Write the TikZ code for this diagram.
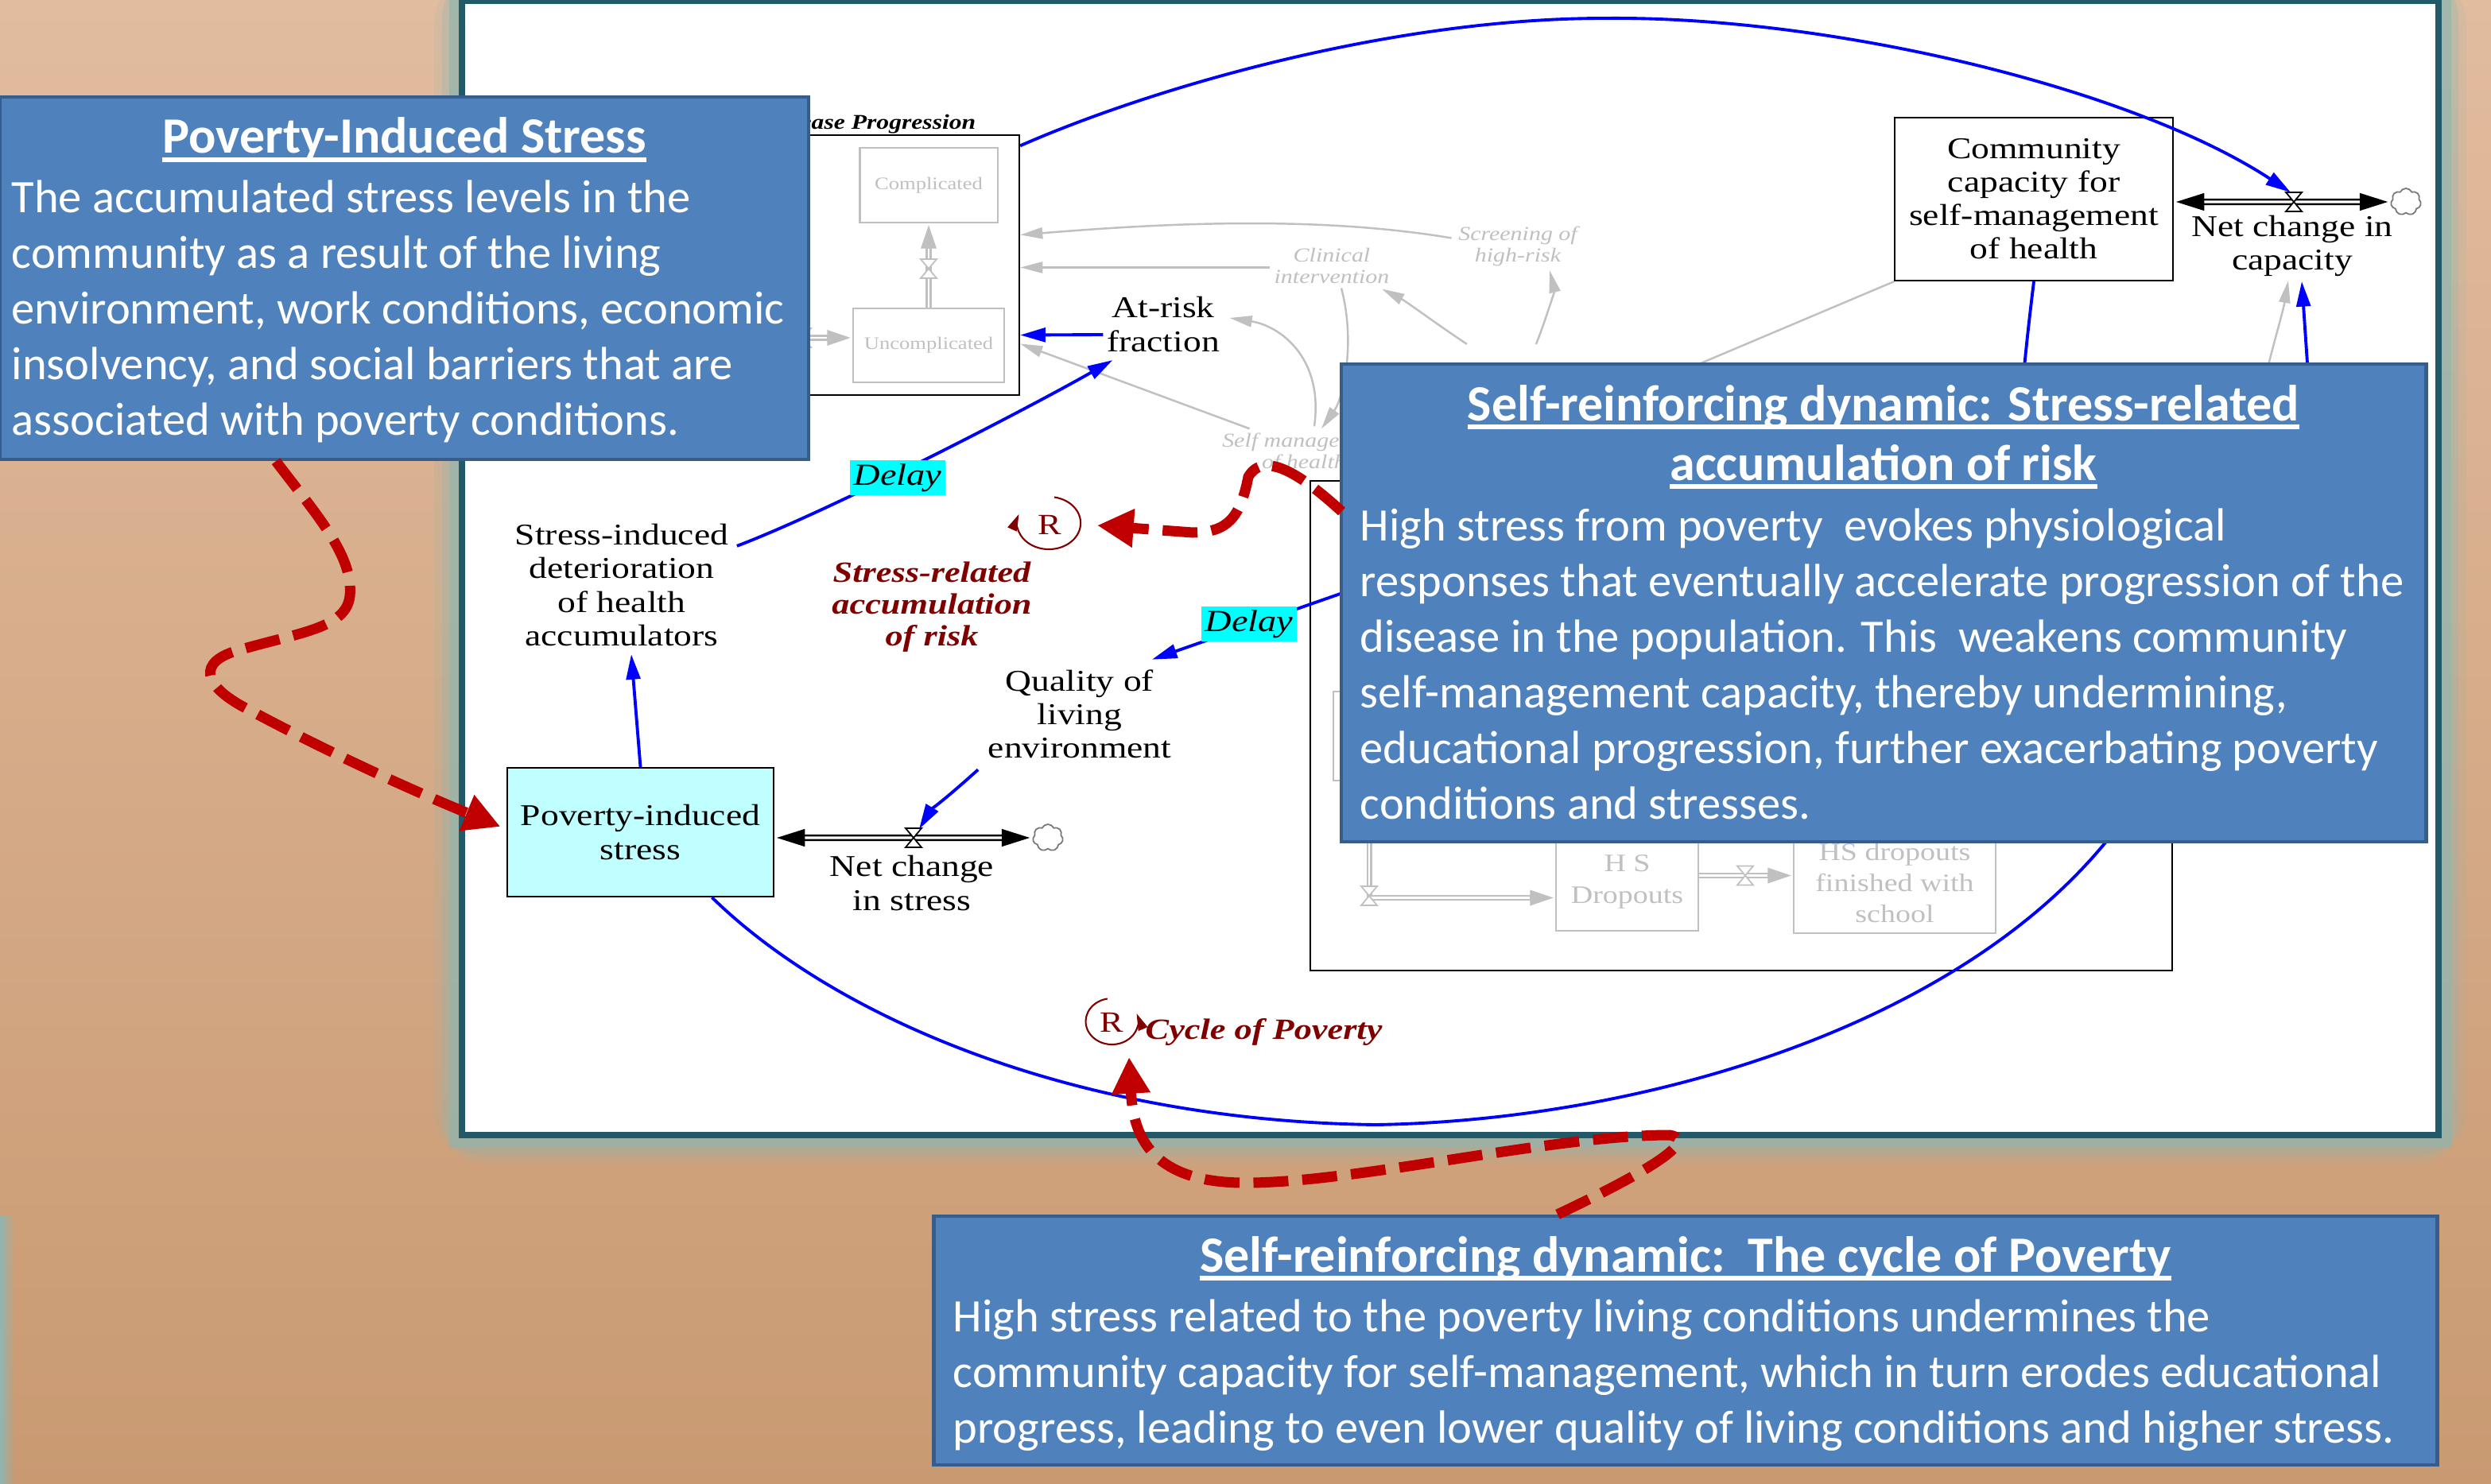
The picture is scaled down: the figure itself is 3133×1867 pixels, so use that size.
\documentclass[tikz,border=0pt]{standalone}
\usepackage{fontspec}
\setmainfont{Liberation Serif}
\newfontfamily\vensim{Liberation Serif}[FakeStretch=1.2]
\newfontfamily\callfont{Carlito}
\usetikzlibrary{arrows.meta, positioning, calc, shapes.symbols, fadings}
\definecolor{bgtop}{RGB}{226,188,159}
\definecolor{bgbottom}{RGB}{201,154,114}
\definecolor{panelline}{RGB}{33,89,104}
\definecolor{glowteal}{RGB}{143,182,177}
\definecolor{callfill}{RGB}{79,129,189}
\definecolor{callline}{RGB}{56,93,138}
\definecolor{stockcyan}{RGB}{191,255,255}
\definecolor{delaycyan}{RGB}{0,255,255}
\definecolor{vgray}{RGB}{192,192,192}
\definecolor{cloudgray}{RGB}{120,120,120}
\definecolor{linkblue}{RGB}{0,0,255}
\definecolor{riskred}{RGB}{192,0,0}
\definecolor{loopred}{RGB}{128,0,0}
\newsavebox\ulbox
\newcommand{\offul}[1]{\sbox\ulbox{#1}\rlap{\rule[-0.17em]{\wd\ulbox}{0.09em}}\usebox\ulbox}
\tikzset{
  valve/.pic={\draw[fill=white, line width=0.5pt] (-10,-12) -- (10,-12) -- (-10,12) -- (10,12) -- cycle;},
  greyvalve/.pic={\draw[vgray, fill=white, line width=0.5pt] (-10,-12) -- (10,-12) -- (-10,12) -- (10,12) -- cycle;}
}

\begin{document}
\begin{tikzpicture}[x=0.01cm, y=-0.01cm,
  var/.style={align=center, inner sep=0, font=\vensim\fontsize{10.8}{11.95}\selectfont},
  stockbox/.style={draw, line width=0.6pt, align=center, inner sep=0, font=\vensim\fontsize{10.8}{11.95}\selectfont},
  greystock/.style={draw=vgray, line width=0.6pt, text=vgray, align=center, inner sep=0, font=\vensim\fontsize{6.3}{7}\selectfont},
  greyvar/.style={text=vgray, align=center, inner sep=0, font=\vensim\itshape\fontsize{7.1}{7.7}\selectfont},
  link/.style={draw=linkblue, line width=1.1pt, -{Triangle[length=9pt,width=5pt]}},
  greylink/.style={draw=vgray, line width=0.7pt, -{Triangle[length=8pt,width=4pt]}},
  delaytag/.style={fill=delaycyan, inner sep=0, minimum width=1.2cm, minimum height=0.43cm, font=\vensim\itshape\fontsize{11}{12}\selectfont},
  flowpipe/.style={line width=2.4pt, {Triangle[length=11pt,width=5.5pt]}-{Triangle[length=11pt,width=5.5pt]}},
  pipecore/.style={draw=white, line width=0.9pt, shorten <=11pt, shorten >=11pt},
  greypipe/.style={draw=vgray, line width=2pt, -{Triangle[length=9pt,width=5pt]}},
  greycore/.style={draw=white, line width=0.8pt, shorten >=9pt},
  sink/.style={cloud, draw=cloudgray, line width=0.5pt, cloud puffs=7, cloud puff arc=130, aspect=1.1, minimum width=0.38cm, minimum height=0.34cm, inner sep=0},
  loopR/.style={text=loopred, inner sep=0, font=\vensim\fontsize{10.5}{12}\selectfont},
  loopname/.style={text=loopred, align=center, inner sep=0, font=\vensim\bfseries\itshape\fontsize{10.5}{11.4}\selectfont},
  looparc/.style={draw=loopred, line width=0.6pt, -{Triangle[length=6pt,width=3.5pt]}},
  riskpath/.style={draw=riskred, line width=3.7pt, dash pattern=on 12.5pt off 5pt, -{Triangle[length=13pt,width=13pt]}},
  callbox/.style={fill=callfill, draw=callline, line width=1.2pt, inner sep=0},
  calltitle/.style={text=white, inner sep=0, font=\callfont\bfseries\fontsize{18.2}{21.3}\selectfont},
  calltext/.style={text=white, align=left, inner sep=0, font=\callfont\fontsize{16.65}{19.92}\selectfont}
]
\useasboundingbox (0,0) rectangle (3133,1867);
% background and panel
\shade[top color=bgtop, bottom color=bgbottom] (0,0) rectangle (3133,1867);
\fill[glowteal, path fading=east] (0,1530) rectangle (18,1867);
\draw[glowteal, opacity=0.15, line width=0.7cm, rounded corners=0.3cm] (581,1) rectangle (3067,1428);
\draw[glowteal, opacity=0.3, line width=0.5cm, rounded corners=0.2cm] (581,1) rectangle (3067,1428);
\draw[glowteal, opacity=0.6, line width=0.32cm] (581,1) rectangle (3067,1428);
\draw[panelline, fill=white, line width=0.08cm] (581,1) rectangle (3067,1428);

% Disease progression sector
\node[stockbox, minimum width=3.22cm, minimum height=3.26cm] (disease) at (1121,333.5) {};
\node[anchor=base east, inner sep=0, font=\vensim\bfseries\itshape\fontsize{7.5}{8}\selectfont] (diseaselbl) at (1228,163) {Disease Progression};
\node[greystock, minimum width=1.73cm, minimum height=0.94cm] (compl) at (1168,233) {Complicated};
\node[greystock, minimum width=1.90cm, minimum height=0.93cm] (uncompl) at (1168,434.5) {Uncomplicated};
\draw[greypipe] (uncompl.north) -- (compl.south);
\draw[greycore] (uncompl.north) -- (compl.south);
\pic at (1168,338) {greyvalve};
\coordinate (uncin) at (960,425);
\draw[greypipe] (uncin) -- (uncin -| uncompl.west);
\draw[greycore] (uncin) -- (uncin -| uncompl.west);
\pic at (1010,425) {greyvalve};

% grey sector variables
\node[var] (atrisk) at (1463,408) {At-risk\\fraction};
\node[greyvar] (screen) at (1909,309.5) {Screening of\\high-risk};
\node[greyvar] (clinical) at (1675,334.5) {Clinical\\intervention};
\node[greyvar] (selfmgmt) at (1640,570) {Self management\\of health};
\node[greyvar] (access) at (1890,472) {Access to};
\draw[greylink] ($(screen.west)+(-8,-10)$) .. controls (1650,270) and (1450,282) .. ($(disease.east)+(0,-38)$);
\draw[greylink] ($(clinical.west)+(-5,2)$) -- ($(disease.east)+(0,3)$);
\draw[greylink] ($(selfmgmt.north west)+(35,-5)$) -- ($(disease.east)+(0,99)$);
\draw[greylink] ($(selfmgmt.north)+(13,-8)$) .. controls (1665,450) and (1610,410) .. ($(atrisk.east)+(12,-8)$);
\draw[greylink] ($(clinical.south)+(12,5)$) .. controls (1705,430) and (1690,500) .. ($(selfmgmt.north)+(22,-5)$);
\draw[greylink] ($(access.north)+(-45,-30)$) .. controls (1810,410) and (1770,380) .. ($(clinical.south east)+(-10,6)$);
\draw[greylink] ($(access.north)+(42,-30)$) .. controls (1945,400) and (1955,365) .. ($(screen.south)+(40,5)$);

% education sector (under the callout)
\node[draw, line width=0.6pt, minimum width=10.84cm, minimum height=6.16cm, inner sep=0] (edu) at (2190,913) {};
\node[greystock, minimum width=1.3cm, minimum height=1.12cm] (edustock) at (1742,926) {};
\node[greystock, minimum width=1.79cm, minimum height=1.23cm, font=\vensim\fontsize{9}{11.3}\selectfont] (dropouts) at (2046.5,1109.5) {H S\\Dropouts};
\node[greystock, minimum width=2.54cm, minimum height=1.27cm, font=\vensim\fontsize{9}{11.1}\selectfont] (finished) at (2383,1110.5) {HS dropouts\\finished with\\school};
\draw[greypipe] ($(dropouts.east)+(0,-8)$) -- ($(finished.west)+(0,-9)$);
\draw[greycore] ($(dropouts.east)+(0,-8)$) -- ($(finished.west)+(0,-9)$);
\pic at (2195,1101.5) {greyvalve};
\coordinate (edusrc) at (1722,1000);
\draw[greypipe] (edusrc) |- ($(dropouts.west)+(0,20)$);
\draw[greycore] (edusrc) |- ($(dropouts.west)+(0,20)$);
\pic at (1722,1127) {greyvalve};

% stress sector
\node[var] (deter) at (782,736) {Stress-induced\\deterioration\\of health\\accumulators};
\node[stockbox, fill=stockcyan, minimum width=3.34cm, minimum height=1.62cm] (stress) at (805.5,1047) {Poverty-induced\\stress};
\node[sink] (cloudA) at (1318,1054) {};
\coordinate (valveA) at (1149,1054);
\draw[flowpipe] ($(stress.east)+(0,7)$) -- (cloudA.west);
\draw[pipecore] ($(stress.east)+(0,7)$) -- (cloudA.west);
\pic at (valveA) {valve};
\node[var] (netstress) at (1147,1111) {Net change\\in stress};
\node[var] (quality) at (1358,898) {Quality of\\living\\environment};

% capacity sector
\node[stockbox, minimum width=3.49cm, minimum height=2.05cm] (community) at (2558,250.5) {Community\\capacity for\\self-management\\of health};
\node[sink] (cloudB) at (3026,254) {};
\coordinate (valveB) at (2885,254);
\draw[flowpipe] ($(community.east)+(0,3.5)$) -- (cloudB.west);
\draw[pipecore] ($(community.east)+(0,3.5)$) -- (cloudB.west);
\pic at (valveB) {valve};
\node[var] (netcap) at (2883,309) {Net change in\\capacity};
\coordinate (edutarget) at (2520,800);
\coordinate (commlink) at (1990,520);
\coordinate (greyin) at (2830,560);
\draw[greylink] (community.south west) -- (commlink);
\draw[greylink] (greyin) .. controls (2850,460) and (2870,400) .. ($(netcap.south)+(-5,5)$);

% blue links
\draw[link] ($(atrisk.west)+(-4,13)$) -- ($(disease.east)+(0,88)$);
\draw[link] ($(deter.north east)+(10,28)$) .. controls (1050,640) and (1300,510) .. ($(atrisk.south west)+(8,10)$);
\node[delaytag] (delayA) at (1129,601) {Delay};
\draw[link] (stress.north) -- ($(deter.south)+(12,10)$);
\draw[link] ($(quality.south west)+(-12,14)$) .. controls (1195,1000) and (1170,1020) .. ($(valveA)+(7,-11)$);
\coordinate (eduout) at (1700,742);
\draw[link] (eduout) -- ($(quality.north east)+(-25,-12)$);
\node[delaytag] (delayB) at (1571,785) {Delay};
\draw[link] ($(disease.north east)+(0,14)$) .. controls (1450,110) and (1750,23) .. (2018,23) .. controls (2300,20) and (2680,110) .. ($(valveB)+(-4,-12)$);
\draw[link] ($(stress.south)+(90,0)$) .. controls (1050,1280) and (1350,1410) .. (1730,1415) .. controls (2050,1410) and (2450,1300) .. (2648,1060) .. controls (2800,860) and (2905,600) .. (2902,457) -- ($(netcap.south)+(12,6)$);
\draw[link] (community.south) .. controls (2550,420) and (2540,500) .. (edutarget);

% loops
\node[loopR] (loopA) at (1320,660) {R};
\draw[looparc] (loopA.center) ++(-80:35) arc[start angle=-80, end angle=200, x radius=40, y radius=33];
\node[loopname] (loopAname) at (1172,764) {Stress-related\\accumulation\\of risk};
\node[loopR] (loopB) at (1398,1286) {R};
\draw[looparc] (loopB.center) ++(-100:30) arc[start angle=-100, end angle=-380, x radius=33, y radius=29];
\node[loopname, anchor=base west] (loopBname) at (1440,1307) {Cycle of Poverty};

% callouts
\node[callbox, minimum width=10.17cm, minimum height=4.56cm] (povbox) at (508.5,350) {};
\node[calltitle, anchor=base] (povtitle) at (508.5,193) {\offul{Poverty-Induced Stress}};
\node[calltext, anchor=north west] (povtext) at (14,226) {The accumulated stress levels in the\\community as a result of the living\\environment, work conditions, economic\\insolvency, and social barriers that are\\associated with poverty conditions.};

\node[callbox, minimum width=13.64cm, minimum height=6.01cm] (riskbox) at (2369,758.5) {};
\node[calltitle, anchor=base] (risktitleA) at (2369,529) {\offul{Self-reinforcing dynamic: Stress-related}};
\node[calltitle, anchor=base] (risktitleB) at (2369,604) {\offul{accumulation of risk}};
\node[calltext, anchor=north west] (risktext) at (1710,639) {High stress from poverty\ \ evokes physiological\\responses that eventually accelerate progression of the\\disease in the population. This\ \ weakens community\\self-management capacity, thereby undermining,\\educational progression, further exacerbating poverty\\conditions and stresses.};

\node[callbox, minimum width=18.9cm, minimum height=3.13cm] (povcycbox) at (2120,1686.5) {};
\node[calltitle, anchor=base] (povcyctitle) at (2120,1600) {\offul{Self-reinforcing dynamic:\ \ The cycle of Poverty}};
\node[calltext, anchor=north west] (povcyctext) at (1198,1634) {High stress related to the poverty living conditions undermines the\\community capacity for self-management, which in turn erodes educational\\progress, leading to even lower quality of living conditions and higher stress.};

% red pointers
\draw[riskpath] ($(povbox.south)+(-161.5,0)$) .. controls (400,650) and (445,700) .. (440,750) .. controls (435,790) and (380,795) .. (300,818) .. controls (250,832) and (250,862) .. (317,895) .. controls (420,950) and (520,995) .. ($(stress.west)+(-8,-7)$);
\draw[riskpath] ($(riskbox.west)+(3,-115)$) .. controls (1640,600) and (1590,565) .. (1570,600) .. controls (1560,650) and (1545,670) .. (1500,670) -- ($(loopA.center)+(60,1)$);
\draw[riskpath] ($(povcycbox.north)+(-161,0)$) .. controls (2060,1480) and (2140,1435) .. (2100,1428) .. controls (1950,1428) and (1700,1490) .. (1560,1488) .. controls (1440,1486) and (1425,1420) .. ($(loopB.center)+(22,44)$);
\end{tikzpicture}
\end{document}
